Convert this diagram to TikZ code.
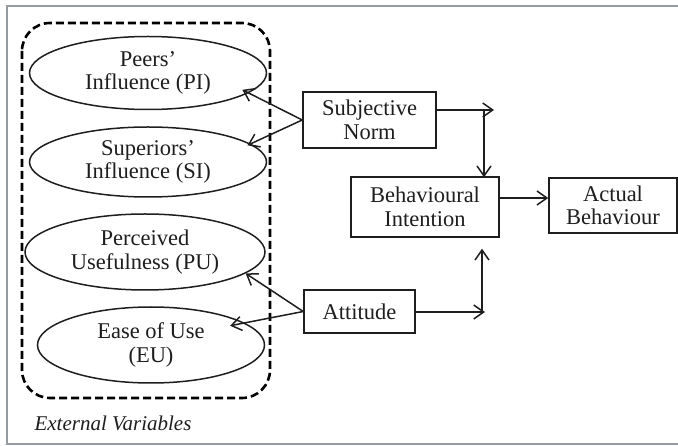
\documentclass[tikz,border=0pt]{standalone}
\usepackage{fontspec}
\setmainfont{Liberation Serif}
\usepackage{xcolor}
\usepackage{tikz}
\usetikzlibrary{shapes.geometric,arrows.meta}
\definecolor{inkgray}{RGB}{30, 30, 30}
\definecolor{framegray}{RGB}{150, 155, 160}

\begin{document}
\begin{tikzpicture}[x=1pt, y=-1pt,
	varell/.style={ellipse, draw=inkgray, line width=1.5pt, text=inkgray, align=center, inner sep=0pt},
	cbox/.style={rectangle, draw=inkgray, line width=1.5pt, text=inkgray, align=center, inner sep=0pt},
	link/.style={inkgray, line width=1.5pt, -{Straight Barb[length=10pt, width=14pt, line width=1.5pt]}},
	font=\fontsize{22.5}{23.5}\selectfont]

	\useasboundingbox (0,0) rectangle (678,446);

	% CADRE
	\draw[framegray, line width=1.5pt] (680,6) -- (7,6) -- (7,444) -- (680,444);

	% VARIABLES EXTERNES
	\draw[black, line width=2.6pt, dash pattern=on 8pt off 4pt, rounded corners=28pt] (22,23) rectangle (270,398);
	\node[varell, minimum width=237pt, minimum height=73pt] (pi) at (148,73) {Peers'\\Influence (PI)};
	\node[varell, minimum width=237pt, minimum height=70pt] (si) at (148,162) {Superiors'\\Influence (SI)};
	\node[varell, minimum width=240pt, minimum height=76pt] (pu) at (145,252) {Perceived\\Usefulness (PU)};
	\node[varell, minimum width=227pt, minimum height=76pt] (eu) at (151,345) {Ease of Use\\(EU)};
	\node[inkgray, font=\fontsize{21}{23}\selectfont\itshape, anchor=base west] (ext) at (31,431) {External Variables};

	% CONSTRUITS
	\node[cbox, minimum width=133pt, minimum height=56pt] (sn) at (369.5,120) {Subjective\\Norm};
	\node[cbox, minimum width=148pt, minimum height=60pt] (bi) at (425,207) {Behavioural\\Intention};
	\node[cbox, minimum width=128pt, minimum height=55pt] (ab) at (613,205.5) {Actual\\Behaviour};
	\node[cbox, minimum width=111pt, minimum height=43pt] (att) at (359.5,311.5) {Attitude};

	% FLECHES VERS LES VARIABLES
	\draw[link] (sn.west) -- ([xshift=-12pt]pi.-9);
	\draw[link] (sn.west) -- ([xshift=-6pt]si.9);
	\draw[link] (att.west) -- (pu.-12);
	\draw[link] (att.west) -- ([xshift=-20pt]eu.11);

	% FLECHES VERS L'INTENTION
	\coordinate (snj) at (484,110);
	\coordinate (attj) at (482,312);
	\draw[link] ([yshift=10pt]sn.east) -- ([xshift=10pt]snj);
	\draw[link] (snj) -- ([yshift=-1pt]snj |- bi.north);
	\draw[link] ([yshift=-0.5pt]att.east) -- ([xshift=3pt]attj);
	\draw[link] (attj) -- ([yshift=-11pt]attj |- bi.south);

	% FLECHE VERS LE COMPORTEMENT
	\draw[link] ([yshift=9pt]bi.east) -- ([yshift=9pt]bi.east -| ab.west);

\end{tikzpicture}
\end{document}
